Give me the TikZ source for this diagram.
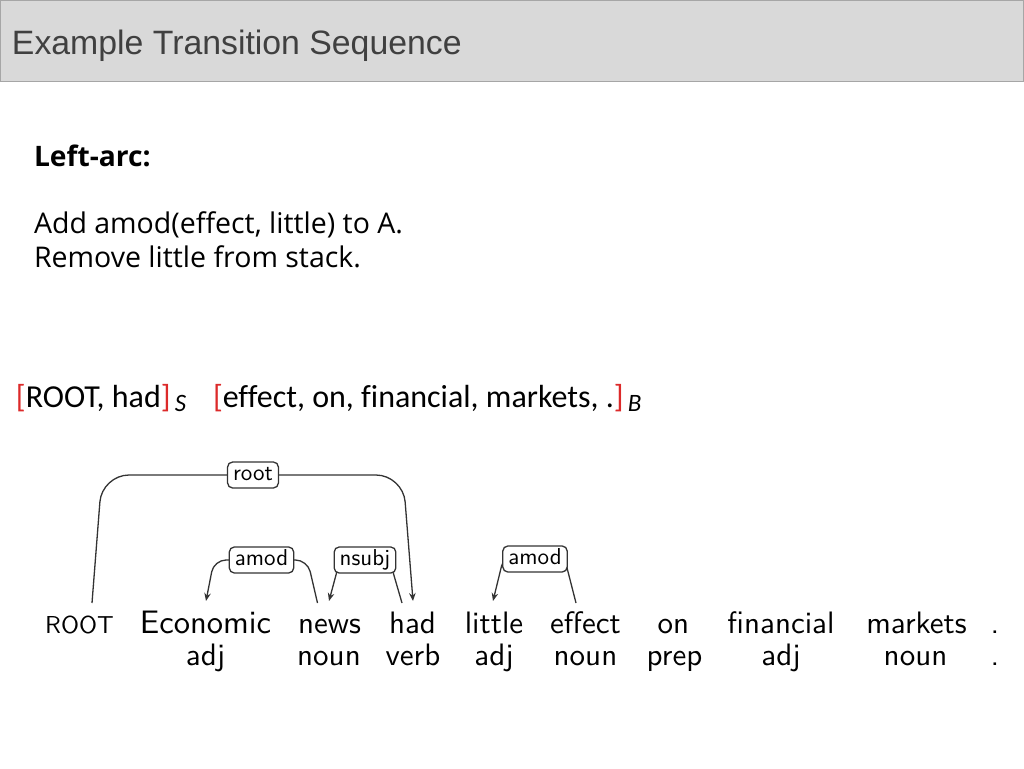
\documentclass[tikz,border=0pt]{standalone}
\usepackage{fontspec}
\usetikzlibrary{arrows.meta}
\setmainfont{Open Sans}
\newfontfamily\titlefont{Liberation Sans}
\newfontfamily\bodyfont{Open Sans}
\newfontfamily\stackfont{Carlito}[Ligatures={NoCommon}]
\newfontfamily\depfont{lmsans10-regular.otf}
\definecolor{titlebg}{HTML}{D9D9D9}
\definecolor{titleborder}{HTML}{A6A6A6}
\definecolor{titletext}{HTML}{404040}
\definecolor{bred}{HTML}{DC2A2A}
\definecolor{arcgray}{HTML}{333333}
\tikzset{
  txt/.style={inner sep=0pt, outer sep=0pt},
  word/.style={txt, anchor=base, font=\depfont\fontsize{31}{31}\selectfont},
  postag/.style={txt, anchor=base, font=\depfont\fontsize{31}{31}\selectfont},
  deplabel/.style={draw=arcgray, line width=1.3pt, rounded corners=5pt, fill=white,
    font=\depfont\fontsize{23}{23}\selectfont, inner xsep=5.5pt, inner ysep=2pt,
    text height=16pt, text depth=6pt},
  arc/.style={draw=arcgray, line width=1.3pt},
  arrowarc/.style={arc, -{Stealth[length=8pt,width=6.5pt]}},
  stacktext/.style={txt, anchor=base west, font=\stackfont\fontsize{32}{32}\selectfont},
}
\newcommand{\redbr}[1]{\textcolor{bred}{#1}}
\newcommand{\stacksub}[1]{\raisebox{-4.5pt}{\fontsize{25}{25}\selectfont\itshape\,#1}}
\begin{document}
\begin{tikzpicture}[x=1pt,y=-1pt]
\useasboundingbox (0,0) rectangle (1024,768);
% title bar
\draw[fill=titlebg, draw=titleborder, line width=1pt] (0.5,0.5) rectangle (1023.5,81.5);
\node[txt, anchor=base west, text=titletext, font=\titlefont\fontsize{33.8}{33.8}\selectfont] (title) at (12,55) {Example Transition Sequence};
% body text
\node[txt, anchor=base west, font=\bodyfont\bfseries\fontsize{28.2}{28.2}\selectfont] (head) at (34,166) {Left-arc:};
\node[txt, anchor=base west, font=\bodyfont\fontsize{28.5}{28.5}\selectfont] (line1) at (34,233) {Add amod(effect, little) to A.};
\node[txt, anchor=base west, font=\bodyfont\fontsize{28.5}{28.5}\selectfont] (line2) at (34,267) {Remove little from stack.};
% stack and buffer
\node[stacktext] (stack) at (16,407)
  {\redbr{[}ROOT, had\redbr{]}\stacksub{S}};
\node[stacktext] (buffer) at (213,407)
  {\redbr{[}effect, on, financial, markets, .\redbr{]}\stacksub{B}};
% words
\node[word, font=\depfont\fontsize{24.5}{24.5}\selectfont] (wroot) at (79.5,633) {ROOT};
\node[word, font=\depfont\fontsize{32.5}{32.5}\selectfont] (wecon) at (205.5,633) {Economic};
\node[word] (wnews) at (329.5,633) {news};
\node[word] (whad) at (412.5,633) {had};
\node[word] (wlittle) at (494,633) {little};
\node[word] (weffect) at (585.5,633) {effect};
\node[word] (won) at (673.5,633) {on};
\node[word] (wfin) at (781,633) {financial};
\node[word] (wmark) at (916.5,633) {markets};
\node[word] (wdot) at (995,633) {.};
% POS tags
\node[postag] (pecon) at (205.5,665) {adj};
\node[postag] (pnews) at (329,665) {noun};
\node[postag] (phad) at (413,665) {verb};
\node[postag] (plittle) at (494,665) {adj};
\node[postag] (peffect) at (585.5,665) {noun};
\node[postag] (pon) at (674.5,665) {prep};
\node[postag] (pfin) at (781,665) {adj};
\node[postag] (pmark) at (915.5,665) {noun};
\node[postag] (pdot) at (995,665) {.};
% arc end points
\coordinate (rootfoot) at (92,603);
\coordinate (hadtip) at (413,601);
\coordinate (newsfoot) at (317.5,603);
\coordinate (econtip) at (206,601);
\coordinate (hadfoot) at (402,603);
\coordinate (newstip) at (329,601);
\coordinate (effectfoot) at (576,603);
\coordinate (littletip) at (493,601);
% arcs
\draw[arrowarc, rounded corners=27pt] (rootfoot) -- (102,475) -- (403,475) -- (hadtip);
\draw[arrowarc, rounded corners=12pt] (newsfoot) -- (307.5,560) -- (214,560) -- (econtip);
\draw[arrowarc, rounded corners=6pt] (hadfoot) -- (389.5,560) -- (340,560) -- (newstip);
\draw[arrowarc, rounded corners=6pt] (effectfoot) -- (565,560) -- (503,560) -- (littletip);
% labels
\node[deplabel] (lroot) at (253,475) {root};
\node[deplabel] (lamodA) at (261.5,560) {amod};
\node[deplabel] (lnsubj) at (365,560) {nsubj};
\node[deplabel] (lamodB) at (535,559) {amod};
\end{tikzpicture}
\end{document}
